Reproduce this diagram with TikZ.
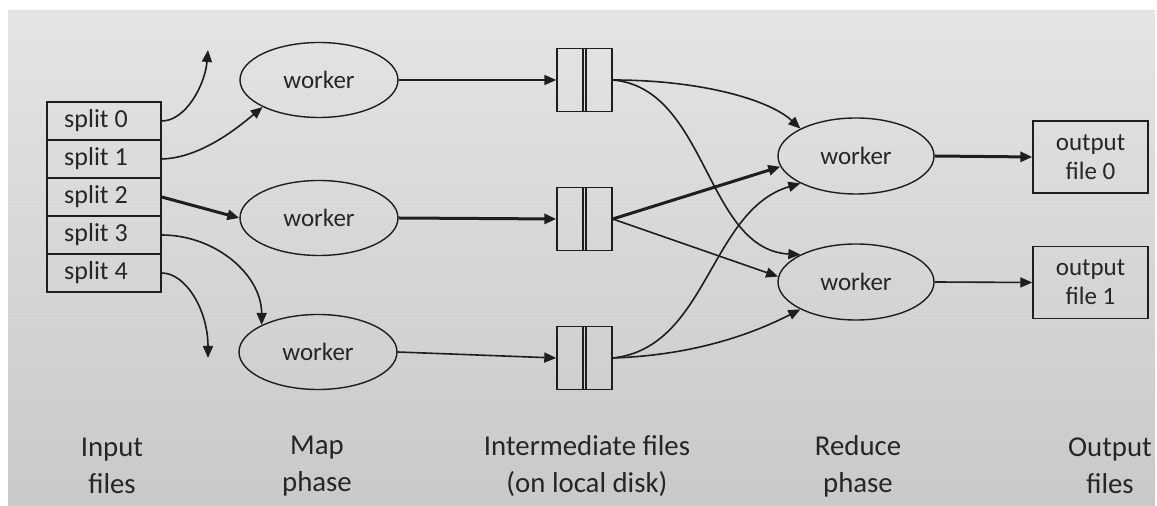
\documentclass[tikz,border=0pt]{standalone}
\usepackage{fontspec}
\setmainfont{Carlito}
\usetikzlibrary{arrows.meta,shapes.geometric,calc}
\definecolor{ink}{HTML}{1E1E1E}
\definecolor{txt}{HTML}{262626}
\definecolor{bgtop}{HTML}{E4E4E4}
\definecolor{bgbot}{HTML}{C9C9C9}
\newcommand{\splittext}[1]{#1\hspace*{8pt}}
\tikzset{
  x=0.5pt, y=-0.5pt,
  every node/.style={text=txt, font=\fontsize{12.5}{14.5}\selectfont},
  splitbox/.style={draw=ink, line width=0.7pt, rectangle, minimum width=57pt, minimum height=19pt, inner sep=0pt, font=\fontsize{13}{14.5}\selectfont},
  workerell/.style={draw=ink, line width=0.7pt, ellipse, minimum width=79pt, minimum height=37.5pt, inner sep=0pt},
  redell/.style={draw=ink, line width=0.7pt, ellipse, minimum width=78pt, minimum height=38pt, inner sep=0pt},
  filebox/.style={draw=ink, line width=0.7pt, rectangle, minimum width=27.5pt, minimum height=31.5pt, inner sep=0pt},
  outbox/.style={draw=ink, line width=0.7pt, rectangle, minimum width=57.5pt, minimum height=36pt, inner sep=0pt, align=center},
  arr/.style={draw=ink, line width=0.8pt, -{Triangle[length=6pt,width=5pt]}},
  tharr/.style={draw=ink, line width=1.5pt, -{Triangle[length=6pt,width=5pt]}},
  phaselabel/.style={align=center, font=\fontsize{14.4}{18.5}\selectfont}
}
\begin{document}
\begin{tikzpicture}
\useasboundingbox (0,0) rectangle (1157,506);
\fill[white] (0,0) rectangle (1157,506);
\shade[top color=bgtop, bottom color=bgbot] (8,11) rectangle (1155,506);

% input splits
\node[splitbox] (s0) at (104,121) {\splittext{split 0}};
\node[splitbox] (s1) at (104,159) {\splittext{split 1}};
\node[splitbox] (s2) at (104,197) {\splittext{split 2}};
\node[splitbox] (s3) at (104,235) {\splittext{split 3}};
\node[splitbox] (s4) at (104,273) {\splittext{split 4}};

% map workers
\node[workerell] (m1) at (319,80) {worker};
\node[workerell] (m2) at (319,218) {worker};
\node[workerell] (m3) at (318,352) {worker};

% intermediate files
\foreach \n/\yy in {b1/80,b2/219,b3/358}{
  \node[filebox] (\n) at (584.5,\yy) {};
  \draw[ink, line width=0.7pt] ([xshift=-0.8pt]\n.north) -- ([xshift=-0.8pt]\n.south);
  \draw[ink, line width=0.7pt] ([xshift=0.8pt]\n.north) -- ([xshift=0.8pt]\n.south);
}

% reduce workers
\node[redell] (r0) at (856,156) {worker};
\node[redell] (r1) at (856,282) {worker};

% output files
\node[outbox] (o0) at (1090.5,157) {output\\file 0};
\node[outbox] (o1) at (1090.5,282.5) {output\\file 1};

% free arrow ends
\coordinate (t0) at (208,50);
\coordinate (t4) at (208,358);

% split -> map
\draw[arr] (s0.east) .. controls ($(s0.east)+(24,0)$) and ($(t0)+(-3,35)$) .. (t0);
\draw[arr] (s1.east) .. controls ($(s1.east)+(40,-1)$) and ($(m1.south west)+(-23,19)$) .. (m1.south west);
\draw[tharr] (s2.east) -- (m2.west);
\draw[arr] (s3.east) .. controls ($(s3.east)+(54,0)$) and ($(m3.north west)+(0,-50)$) .. (m3.north west);
\draw[arr] (s4.east) .. controls ($(s4.east)+(24,0)$) and ($(t4)+(0,-48)$) .. (t4);

% map -> intermediate
\draw[arr] (m1.east) -- (b1.west);
\draw[tharr] (m2.east) -- (b2.west);
\draw[arr] (m3.east) -- (b3.west);

% intermediate -> reduce
\draw[arr] (b1.east) .. controls ($(b1.east)+(88,0)$) and ($(r0.north west)+(-31,-29)$) .. (r0.north west);
\draw[arr] (b1.east) .. controls ($(b1.east)+(95,8)$) and ($(r1.north west)+(-95,-5)$) .. (r1.north west);
\draw[tharr] (b2.east) -- (r0.188);
\draw[arr] (b2.east) -- (r1.176);
\draw[arr] (b3.east) .. controls ($(b3.east)+(95,-10)$) and ($(r0.south west)+(-91,27)$) .. (r0.south west);
\draw[arr] (b3.east) .. controls ($(b3.east)+(88,-3)$) and ($(r1.south west)+(-41,21)$) .. (r1.south west);

% reduce -> output
\draw[tharr] (r0.east) -- (o0.west);
\draw[arr] (r1.east) -- (o1.west);

% phase labels
\node[phaselabel] (l1) at (112,466) {Input\\files};
\node[phaselabel] (l2) at (317,466) {Map\\phase};
\node[phaselabel] (l3) at (587,466) {Intermediate files\\(on local disk)};
\node[phaselabel] (l4) at (858,466) {Reduce\\phase};
\node[phaselabel] (l5) at (1110,466) {Output\\files};
\end{tikzpicture}
\end{document}
